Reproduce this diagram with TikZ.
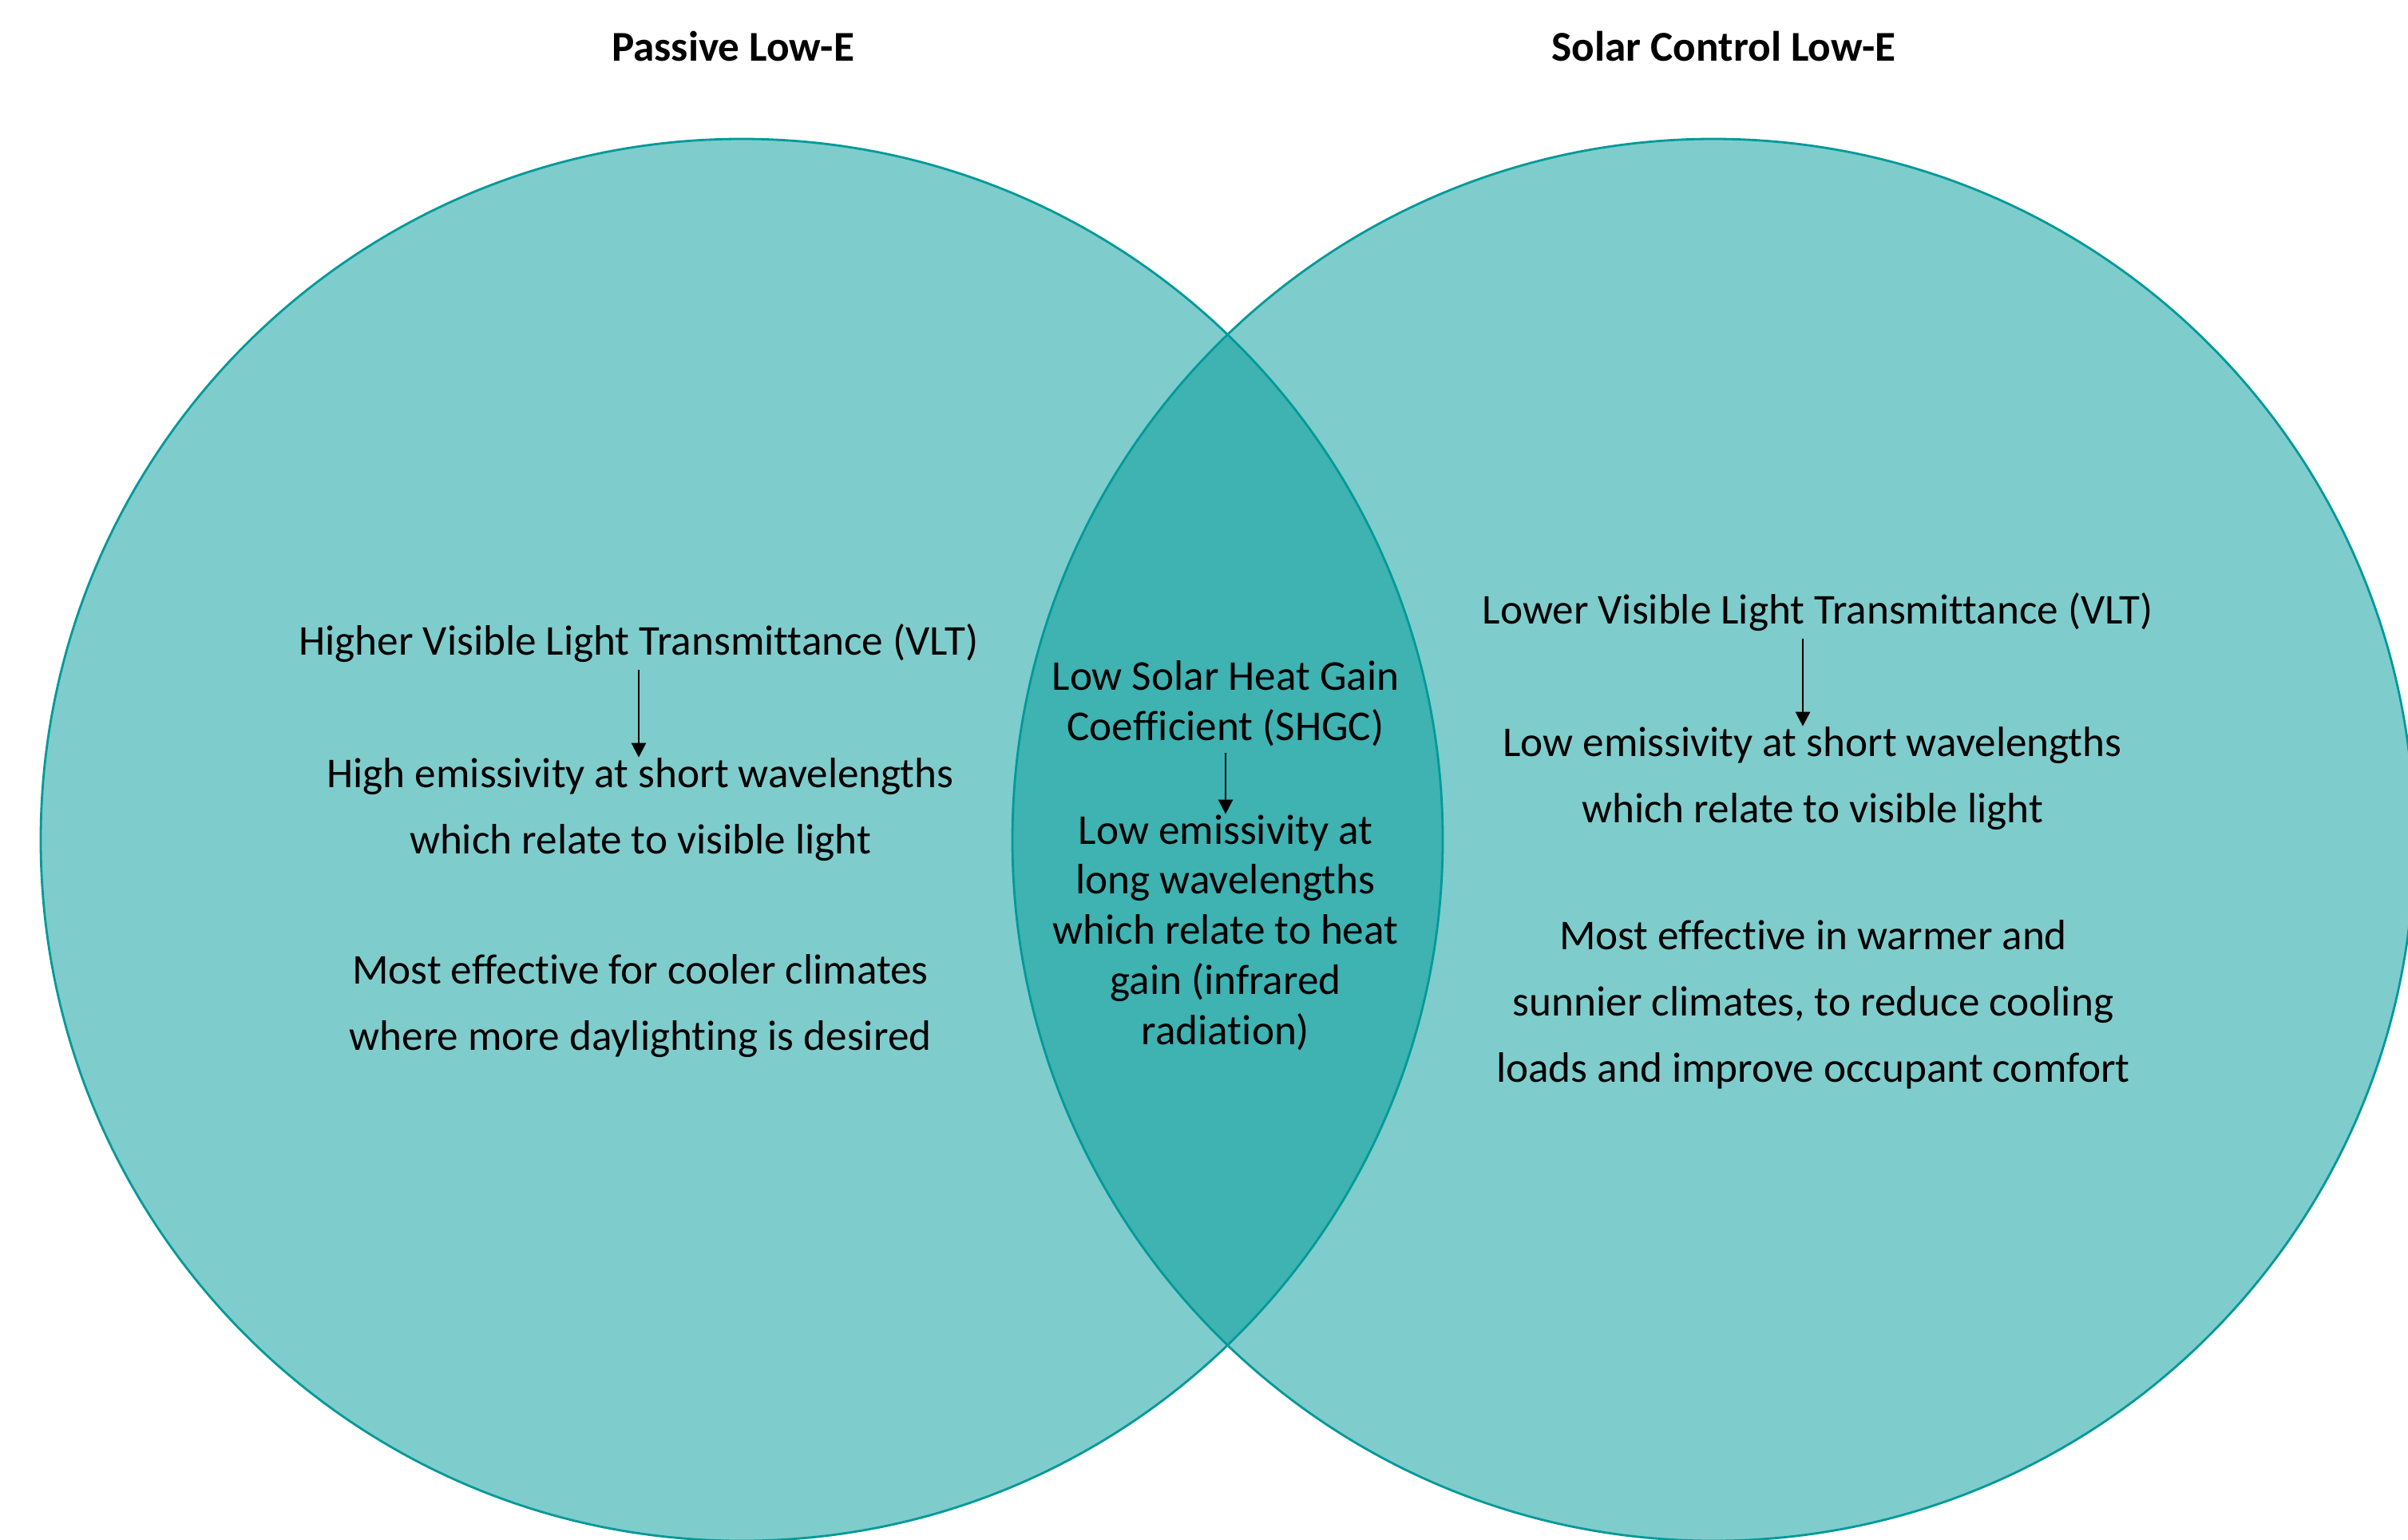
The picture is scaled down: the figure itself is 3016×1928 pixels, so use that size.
\documentclass[tikz,border=0pt]{standalone}
\usepackage{fontspec}
\setmainfont[Ligatures=NoCommon]{Carlito}
\usetikzlibrary{arrows.meta}
\definecolor{vennteal}{RGB}{0,153,153}

\begin{document}
\begin{tikzpicture}[x=0.25pt,y=-0.25pt]
\tikzstyle{every node}+=[inner sep=0pt,align=center]
\tikzstyle{side}=[font=\fontsize{13.3}{20.75}\selectfont]
\tikzstyle{mid}=[font=\fontsize{13.3}{15.7}\selectfont]
\tikzstyle{arr}=[-{Triangle[width=4.5pt,length=4.5pt]},line width=0.65pt,shorten <=2pt]
\useasboundingbox (0,0) rectangle (3016,1928);
\clip (0,0) rectangle (3016,1928);
\fill [vennteal,fill opacity=0.5] (929,1052) circle (219.5pt);
\fill [vennteal,fill opacity=0.5] (2146,1052) circle (219.5pt);
\draw [vennteal,line width=0.7pt] (929,1052) circle (219.5pt);
\draw [vennteal,line width=0.7pt] (2146,1052) circle (219.5pt);
\draw (918,58) node [font=\fontsize{13.3}{15.7}\selectfont\bfseries] (ptitle) {Passive Low-E};
\draw (2159,58) node [font=\fontsize{13.3}{15.7}\selectfont\bfseries] (stitle) {Solar Control Low-E};
% passive
\draw (800,806) node [side] (lvlt) {Higher Visible Light Transmittance (VLT)};
\draw (802,1014) node [side] (lemis) {High emissivity at short wavelengths\\which relate to visible light};
\draw (802,1260) node [side] (lclim) {Most effective for cooler climates\\where more daylighting is desired};
% both
\draw (1535,881) node [mid] (mshgc) {Low Solar Heat Gain\\Coefficient (SHGC)};
\draw (1535,1168) node [mid] (memis) {Low emissivity at\\long wavelengths\\which relate to heat\\gain (infrared\\radiation)};
% solar control
\draw (2277,767) node [side] (rvlt) {Lower Visible Light Transmittance (VLT)};
\draw (2270,975) node [side] (remis) {Low emissivity at short wavelengths\\which relate to visible light};
\draw (2271,1258) node [side] (rclim) {Most effective in warmer and\\sunnier climates, to reduce cooling\\loads and improve occupant comfort};
\draw [arr] (lvlt.south) -- (lvlt.south |- lemis.north);
\draw [arr] (mshgc.south) -- (mshgc.south |- memis.north);
\draw [arr] ([xshift=-4.75pt]rvlt.south) -- ([xshift=-4.75pt]rvlt.south |- remis.north);
\end{tikzpicture}
\end{document}
